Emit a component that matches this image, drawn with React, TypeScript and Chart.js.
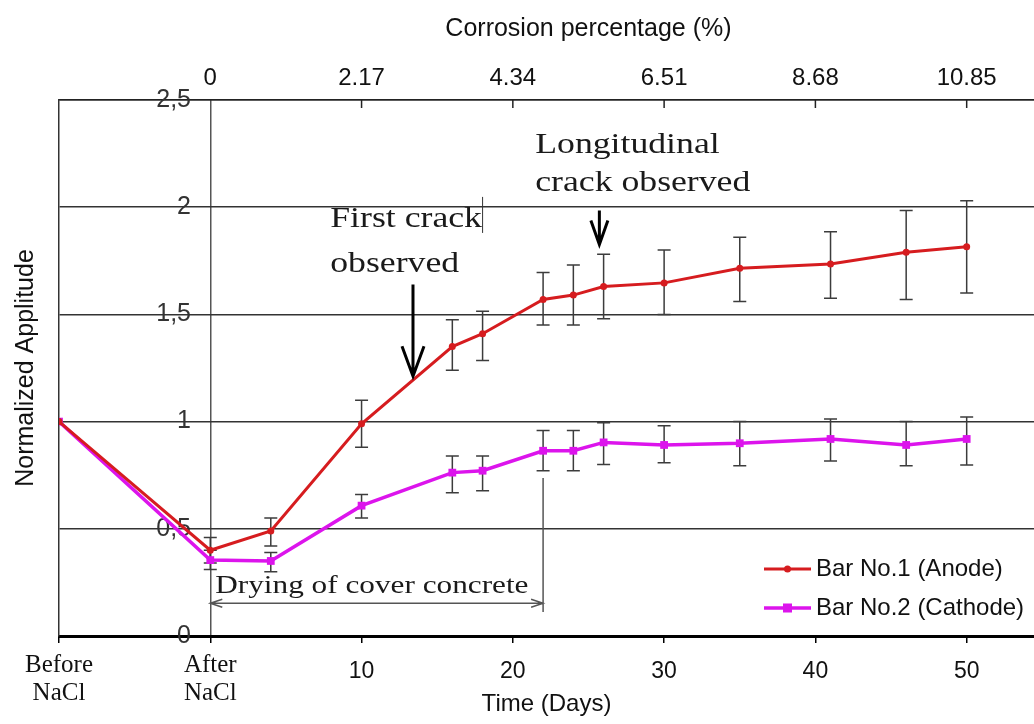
import React, { useEffect, useRef } from 'react';
import { Chart, registerables } from 'chart.js';

Chart.register(...registerables);

const SANS = "'Liberation Sans', Arial, sans-serif";
const SERIF = "'Liberation Serif', 'Times New Roman', serif";

// Measurement days; -10 holds the reading taken before NaCl exposure,
// 0 the reading taken right after it.
const days = [-10, 0, 4, 10, 16, 18, 22, 24, 26, 30, 35, 41, 46, 50];

// Bar No.1 (anode): mean normalized amplitude and error-bar limits
const anodeMean = [1.0, 0.4, 0.49, 0.99, 1.35, 1.41, 1.57, 1.59, 1.63, 1.647, 1.715, 1.735, 1.79, 1.815];
const anodeHigh = [null, 0.46, 0.55, 1.1, 1.475, 1.515, 1.695, 1.73, 1.78, 1.8, 1.86, 1.885, 1.985, 2.03];
const anodeLow = [null, 0.34, 0.42, 0.88, 1.24, 1.285, 1.45, 1.45, 1.48, 1.5, 1.56, 1.575, 1.57, 1.6];

// Bar No.2 (cathode)
const cathodeMean = [1.0, 0.354, 0.35, 0.608, 0.762, 0.771, 0.864, 0.864, 0.903, 0.891, 0.899, 0.919, 0.891, 0.919];
const cathodeHigh = [null, 0.4, 0.39, 0.66, 0.84, 0.84, 0.958, 0.958, 0.995, 0.981, 1.0, 1.012, 1.0, 1.021];
const cathodeLow = [null, 0.31, 0.3, 0.55, 0.668, 0.678, 0.771, 0.771, 0.8, 0.808, 0.794, 0.816, 0.794, 0.797];

const timeTicks = [-10, 0, 10, 20, 30, 40, 50];
const timeTickLabels: (string | string[])[] = [['Before', 'NaCl'], ['After', 'NaCl'], '10', '20', '30', '40', '50'];
const corrosionTickDays = [0, 10, 20, 30, 40, 50];
const corrosionTickLabels = ['0', '2.17', '4.34', '6.51', '8.68', '10.85'];
const amplitudeTicks = [0, 0.5, 1, 1.5, 2, 2.5];

const seriesNames = ['Bar No.1 (Anode)', 'Bar No.2 (Cathode)'];
const errorLow = [anodeLow, cathodeLow];
const errorHigh = [anodeHigh, cathodeHigh];

const RED = '#d61c1f';
const MAGENTA = '#dc14ec';

const fmtAmplitude = (v: number) => String(v).replace('.', ',');

const Y_AXIS_WIDTH = 59;
const Y_LABEL_RIGHT = 191;
const Y_FONT_SIZE = 25;

function yLabelPadding() {
  const c = document.createElement('canvas').getContext('2d') as CanvasRenderingContext2D;
  c.font = `${Y_FONT_SIZE}px ${SANS}`;
  const widest = Math.max(...amplitudeTicks.map((v) => c.measureText(fmtAmplitude(v)).width));
  return Y_LABEL_RIGHT - Y_AXIS_WIDTH - widest;
}

// fixed axis box sizes, without the extra label padding Chart.js would add
function fixBox(size: { width?: number; height?: number }) {
  return (s: any) => {
    if (size.width != null) s.width = size.width;
    if (size.height != null) s.height = size.height;
    s.paddingTop = 0;
    s.paddingBottom = 0;
    s.paddingLeft = 0;
    s.paddingRight = 0;
  };
}

function stretchedText(ctx: CanvasRenderingContext2D, text: string, x: number, y: number, sx: number) {
  ctx.save();
  ctx.translate(x, y);
  ctx.scale(sx, 1);
  ctx.fillText(text, 0, 0);
  ctx.restore();
}

function downArrow(ctx: CanvasRenderingContext2D, x: number, y0: number, y1: number, head: number, spread: number) {
  ctx.beginPath();
  ctx.moveTo(x, y0);
  ctx.lineTo(x, y1);
  ctx.moveTo(x - spread, y1 - head);
  ctx.lineTo(x, y1);
  ctx.lineTo(x + spread, y1 - head);
  ctx.stroke();
}

// Error bars (vertical whiskers with caps), drawn under the lines
const errorBarPlugin = {
  id: 'errorBars',
  beforeDatasetsDraw(chart: any) {
    const { ctx } = chart;
    const x = chart.scales.x;
    const y = chart.scales.y;
    ctx.save();
    ctx.strokeStyle = '#3c3c3c';
    ctx.lineWidth = 1.5;
    errorLow.forEach((lows, s) => {
      const highs = errorHigh[s];
      days.forEach((d, i) => {
        const lo = lows[i];
        const hi = highs[i];
        if (lo == null || hi == null) return;
        const px = x.getPixelForValue(d);
        const yl = y.getPixelForValue(lo);
        const yh = y.getPixelForValue(hi);
        ctx.beginPath();
        ctx.moveTo(px, yl);
        ctx.lineTo(px, yh);
        ctx.moveTo(px - 6.5, yl);
        ctx.lineTo(px + 6.5, yl);
        ctx.moveTo(px - 6.5, yh);
        ctx.lineTo(px + 6.5, yh);
        ctx.stroke();
      });
    });
    // inward tick marks of the corrosion axis
    const x2 = chart.scales.x2;
    ctx.strokeStyle = '#222';
    ctx.lineWidth = 1.5;
    x2.ticks.forEach((t: any) => {
      if (t.value === 0) return;
      const px = x2.getPixelForValue(t.value);
      ctx.beginPath();
      ctx.moveTo(px, chart.chartArea.top);
      ctx.lineTo(px, chart.chartArea.top + 8);
      ctx.stroke();
    });
    ctx.restore();
  },
};

// Crack annotations, drying period marker, corrosion title and legend
const annotationPlugin = {
  id: 'crackNotes',
  afterDatasetsDraw(chart: any) {
    const { ctx } = chart;
    const x = chart.scales.x;
    const y = chart.scales.y;
    const X = (d: number) => x.getPixelForValue(d);
    const Y = (v: number) => y.getPixelForValue(v);
    ctx.save();

    // drying of cover concrete: day 0 to day 22
    ctx.strokeStyle = '#555';
    ctx.lineWidth = 1.5;
    const xa = X(0);
    const xb = X(22);
    const ya = Y(0.153);
    ctx.beginPath();
    ctx.moveTo(xb, Y(0.737));
    ctx.lineTo(xb, Y(0.112));
    ctx.moveTo(xa, ya);
    ctx.lineTo(xb, ya);
    ctx.moveTo(xa + 12, ya - 4);
    ctx.lineTo(xa, ya);
    ctx.lineTo(xa + 12, ya + 4);
    ctx.moveTo(xb - 12, ya - 4);
    ctx.lineTo(xb, ya);
    ctx.lineTo(xb - 12, ya + 4);
    ctx.stroke();

    ctx.fillStyle = '#1a1a1a';
    ctx.textAlign = 'left';
    ctx.textBaseline = 'alphabetic';
    ctx.font = `25px ${SERIF}`;
    stretchedText(ctx, 'Drying of cover concrete', X(0.33), Y(0.2), 1.25);

    // first crack
    ctx.font = `30px ${SERIF}`;
    const fcx = X(7.93);
    const fcy = Y(1.909);
    stretchedText(ctx, 'First crack', fcx, fcy, 1.19);
    stretchedText(ctx, 'observed', fcx, fcy + 45, 1.19);
    ctx.strokeStyle = '#333';
    ctx.lineWidth = 1;
    ctx.beginPath();
    ctx.moveTo(X(18), Y(2.048));
    ctx.lineTo(X(18), Y(1.88));
    ctx.stroke();

    // longitudinal crack
    const lcx = X(21.48);
    const lcy = Y(2.253);
    stretchedText(ctx, 'Longitudinal', lcx, lcy, 1.19);
    stretchedText(ctx, 'crack observed', lcx, lcy + 38.5, 1.19);

    ctx.strokeStyle = '#000';
    ctx.lineWidth = 3;
    ctx.lineCap = 'butt';
    downArrow(ctx, X(13.4), Y(1.64), Y(1.212), 30, 11);
    downArrow(ctx, X(25.72), Y(1.985), Y(1.826), 24, 8.5);

    // corrosion axis title, centred over the 0-50 day span
    ctx.fillStyle = '#111';
    ctx.font = `25px ${SANS}`;
    ctx.textAlign = 'center';
    ctx.textBaseline = 'middle';
    ctx.fillText('Corrosion percentage (%)', (X(0) + X(50)) / 2, chart.scales.x2.top + 29);

    // legend
    const lx = chart.chartArea.right - 270;
    const rows = [chart.chartArea.bottom - 67, chart.chartArea.bottom - 28];
    chart.data.datasets.forEach((ds: any, i: number) => {
      const ry = rows[i];
      ctx.strokeStyle = ds.borderColor;
      ctx.lineWidth = ds.borderWidth;
      ctx.beginPath();
      ctx.moveTo(lx, ry);
      ctx.lineTo(lx + 47, ry);
      ctx.stroke();
      ctx.fillStyle = ds.borderColor;
      if (ds.pointStyle === 'rect') {
        ctx.fillRect(lx + 23.5 - 4.5, ry - 4.5, 9, 9);
      } else {
        ctx.beginPath();
        ctx.arc(lx + 23.5, ry, 3.5, 0, Math.PI * 2);
        ctx.fill();
      }
      ctx.fillStyle = '#111';
      ctx.font = `24px ${SANS}`;
      ctx.textAlign = 'left';
      ctx.textBaseline = 'middle';
      ctx.fillText(seriesNames[i], lx + 52, ry);
    });

    ctx.restore();
  },
};

export default function App() {
  const canvasRef = useRef<HTMLCanvasElement>(null);

  useEffect(() => {
    const canvas = canvasRef.current;
    if (!canvas) return;
    const yPad = yLabelPadding();

    const chart = new Chart(canvas, {
      type: 'line',
      data: {
        datasets: [
          {
            label: seriesNames[0],
            data: days.map((d, i) => ({ x: d, y: anodeMean[i] })),
            borderColor: RED,
            backgroundColor: RED,
            borderWidth: 3,
            pointStyle: 'circle',
            pointRadius: 3.5,
            pointBorderWidth: 0,
            tension: 0,
          },
          {
            label: seriesNames[1],
            data: days.map((d, i) => ({ x: d, y: cathodeMean[i] })),
            borderColor: MAGENTA,
            backgroundColor: MAGENTA,
            borderWidth: 3.5,
            pointStyle: 'rect',
            pointRadius: 5.5,
            pointBorderWidth: 0,
            tension: 0,
          },
        ],
      },
      options: {
        animation: false,
        responsive: true,
        maintainAspectRatio: false,
        layout: { padding: 0, autoPadding: false },
        plugins: {
          legend: { display: false },
          tooltip: { enabled: false },
        },
        scales: {
          x: {
            type: 'linear',
            position: 'bottom',
            min: -10,
            max: 54.45,
            afterBuildTicks: (s: any) => {
              s.ticks = timeTicks.map((v) => ({ value: v }));
            },
            afterFit: fixBox({ height: 88 }),
            ticks: {
              autoSkip: false,
              maxRotation: 0,
              minRotation: 0,
              padding: 9,
              color: '#111',
              callback: (v: any) => {
                const i = timeTicks.indexOf(Number(v));
                return i >= 0 ? timeTickLabels[i] : '';
              },
              font: (c: any) =>
                c.tick && c.tick.value <= 0
                  ? { family: SERIF, size: 25, lineHeight: 1.1 }
                  : { family: SANS, size: 23, lineHeight: 1.7 },
            },
            grid: {
              drawOnChartArea: true,
              tickLength: 7,
              tickColor: '#000',
              tickWidth: 1.5,
              lineWidth: 1.5,
              color: (c: any) => (c.tick && c.tick.value === 0 ? '#555' : 'rgba(0,0,0,0)'),
            },
            border: { color: '#000', width: 3 },
            title: {
              display: true,
              text: 'Time (Days)',
              color: '#111',
              font: { family: SANS, size: 24 },
              padding: { top: 0, bottom: 5 },
            },
          },
          x2: {
            type: 'linear',
            position: 'top',
            min: -10,
            max: 54.45,
            afterBuildTicks: (s: any) => {
              s.ticks = corrosionTickDays.map((v) => ({ value: v }));
            },
            afterFit: fixBox({ height: 100 }),
            ticks: {
              autoSkip: false,
              maxRotation: 0,
              minRotation: 0,
              padding: 7,
              color: '#111',
              font: { family: SANS, size: 24 },
              callback: (v: any) => {
                const i = corrosionTickDays.indexOf(Number(v));
                return i >= 0 ? corrosionTickLabels[i] : '';
              },
            },
            grid: { drawOnChartArea: false, drawTicks: false },
            border: { color: '#222', width: 1.5 },
          },
          y: {
            type: 'linear',
            position: 'left',
            min: 0,
            max: 2.5,
            afterBuildTicks: (s: any) => {
              s.ticks = amplitudeTicks.map((v) => ({ value: v }));
            },
            afterFit: fixBox({ width: Y_AXIS_WIDTH }),
            ticks: {
              mirror: true,
              crossAlign: 'far',
              padding: yPad,
              color: '#333',
              font: { family: SANS, size: Y_FONT_SIZE },
              callback: (v: any) => fmtAmplitude(Number(v)),
            },
            grid: { color: '#333', lineWidth: 1.5, drawTicks: false },
            border: { color: '#333', width: 1.5 },
            title: {
              display: true,
              text: 'Normalized Applitude',
              color: '#111',
              font: { family: SANS, size: 25 },
              padding: { top: 11, bottom: 0 },
            },
          },
        },
      } as any,
      plugins: [errorBarPlugin, annotationPlugin],
    });

    return () => chart.destroy();
  }, []);

  return (
    <div style={{ position: 'fixed', left: 0, top: 0, width: 1034, height: 724, background: '#fff' }}>
      <canvas ref={canvasRef} />
    </div>
  );
}
